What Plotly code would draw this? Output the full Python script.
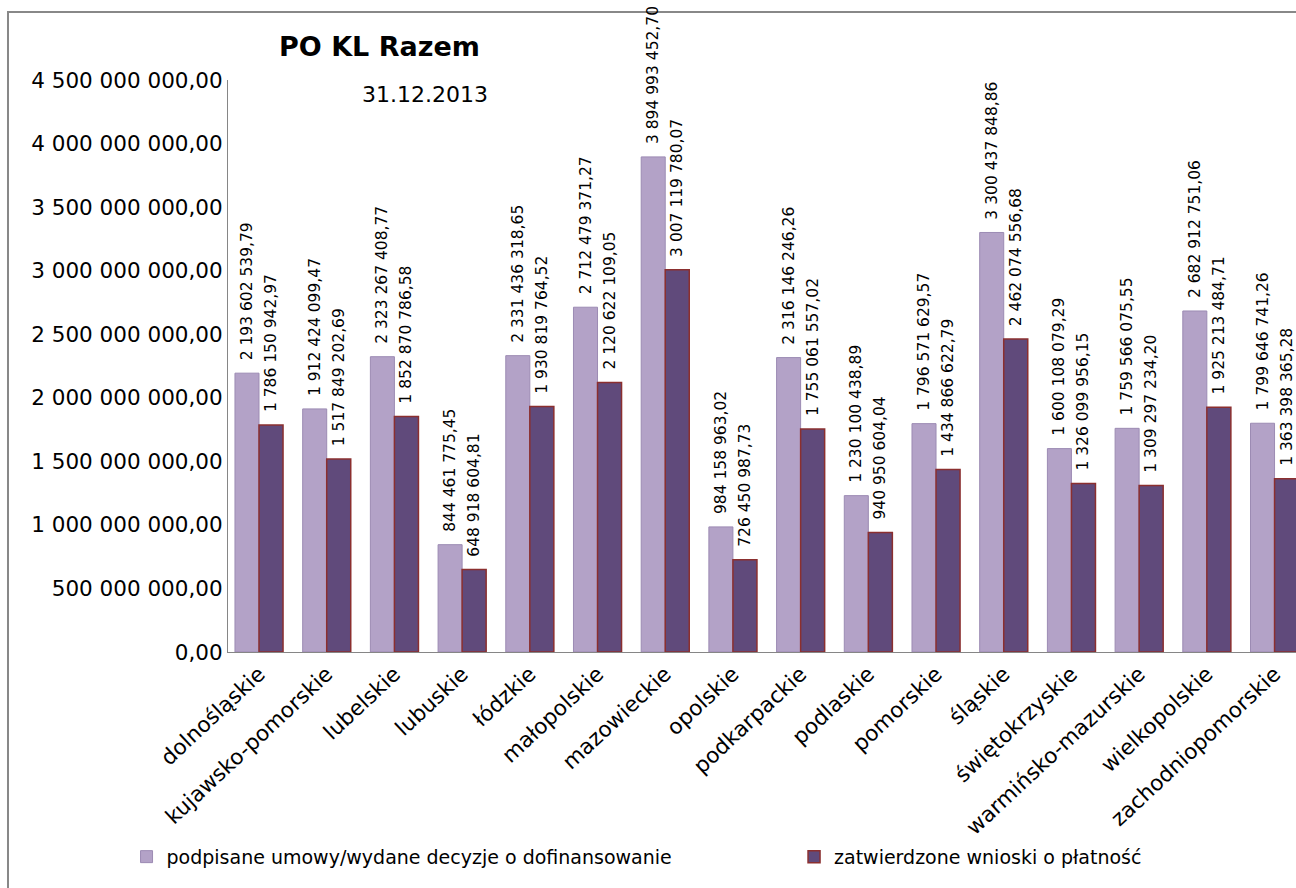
import plotly.graph_objects as go

regions = ["dolnośląskie", "kujawsko-pomorskie", "lubelskie", "lubuskie", "łódzkie",
           "małopolskie", "mazowieckie", "opolskie", "podkarpackie", "podlaskie",
           "pomorskie", "śląskie", "świętokrzyskie", "warmińsko-mazurskie",
           "wielkopolskie", "zachodniopomorskie"]

signed = [2193602539.79, 1912424099.47, 2323267408.77, 844461775.45, 2331436318.65,
          2712479371.27, 3894993452.70, 984158963.02, 2316146246.26, 1230100438.89,
          1796571629.57, 3300437848.86, 1600108079.29, 1759566075.55, 2682912751.06,
          1799646741.26]

approved = [1786150942.97, 1517849202.69, 1852870786.58, 648918604.81, 1930819764.52,
            2120622109.05, 3007119780.07, 726450987.73, 1755061557.02, 940950604.04,
            1434866622.79, 2462074556.68, 1326099956.15, 1309297234.20, 1925213484.71,
            1363398365.28]

series_names = ["podpisane umowy/wydane decyzje o dofinansowanie",
                "zatwierdzone wnioski o płatność"]

label_font = dict(family="DejaVu Sans", size=15.5, color="black")
# leading no-break spaces lift the rotated labels a little off the bar tops
label_tpl = "\u00a0\u00a0%{y:,.2f}"

fig = go.Figure()
fig.add_trace(go.Bar(
    x=regions, y=signed, name=series_names[0], legend="legend",
    marker=dict(color="#B3A2C7", line=dict(color="#9C8BB3", width=1)),
    texttemplate=label_tpl, textposition="outside", textangle=-90,
    textfont=label_font, constraintext="none", cliponaxis=False,
))
fig.add_trace(go.Bar(
    x=regions, y=approved, name=series_names[1], legend="legend2",
    marker=dict(color="#604A7B", line=dict(color="#8B2F2F", width=1.5)),
    texttemplate=label_tpl, textposition="outside", textangle=-90,
    textfont=label_font, constraintext="none", cliponaxis=False,
))

legend_style = dict(orientation="h", xanchor="left", yanchor="middle", y=-0.358,
                    itemwidth=30, bgcolor="rgba(0,0,0,0)",
                    font=dict(family="DejaVu Sans", size=19))

fig.update_layout(
    width=1296, height=888,
    margin=dict(l=228, r=0, t=80, b=236),
    paper_bgcolor="white", plot_bgcolor="white",
    separators=", ",
    barmode="group", bargap=0.29, bargroupgap=0,
    font=dict(family="DejaVu Sans", size=20, color="black"),
    showlegend=True,
    legend=dict(x=-0.095, **legend_style),
    legend2=dict(x=0.53, **legend_style),
    annotations=[
        dict(text="<b>PO KL Razem</b>", x=0.142, y=1.058, xref="paper", yref="paper",
             xanchor="center", yanchor="middle",
             showarrow=False, font=dict(family="DejaVu Sans", size=27)),
        dict(text="31.12.2013", x=0.184, y=0.974, xref="paper", yref="paper",
             xanchor="center", yanchor="middle",
             showarrow=False, font=dict(family="DejaVu Sans", size=22)),
    ],
    shapes=[
        dict(type="rect", xref="paper", yref="paper", x0=-0.206, x1=1.05, y0=-0.5, y1=1.119,
             line=dict(color="#888888", width=2), fillcolor="rgba(0,0,0,0)", layer="below"),
    ],
)

fig.update_yaxes(range=[0, 4.5e9], dtick=5e8, tickformat=",.2f", showgrid=False,
                 showline=True, linecolor="#868686", linewidth=1, zeroline=False,
                 automargin=False, tickfont=dict(family="DejaVu Sans", size=21.5))
fig.update_xaxes(range=[-0.458, 15.317], tickangle=-43, showgrid=False, showline=True,
                 linecolor="#868686", linewidth=1, automargin=False,
                 tickfont=dict(family="DejaVu Sans", size=21.5))

# page has a default 8px body margin; drop it so the chart sits at the window origin
fig.write_html("out.html", config={"displayModeBar": False},
               post_script="document.body.style.margin='0px';")
